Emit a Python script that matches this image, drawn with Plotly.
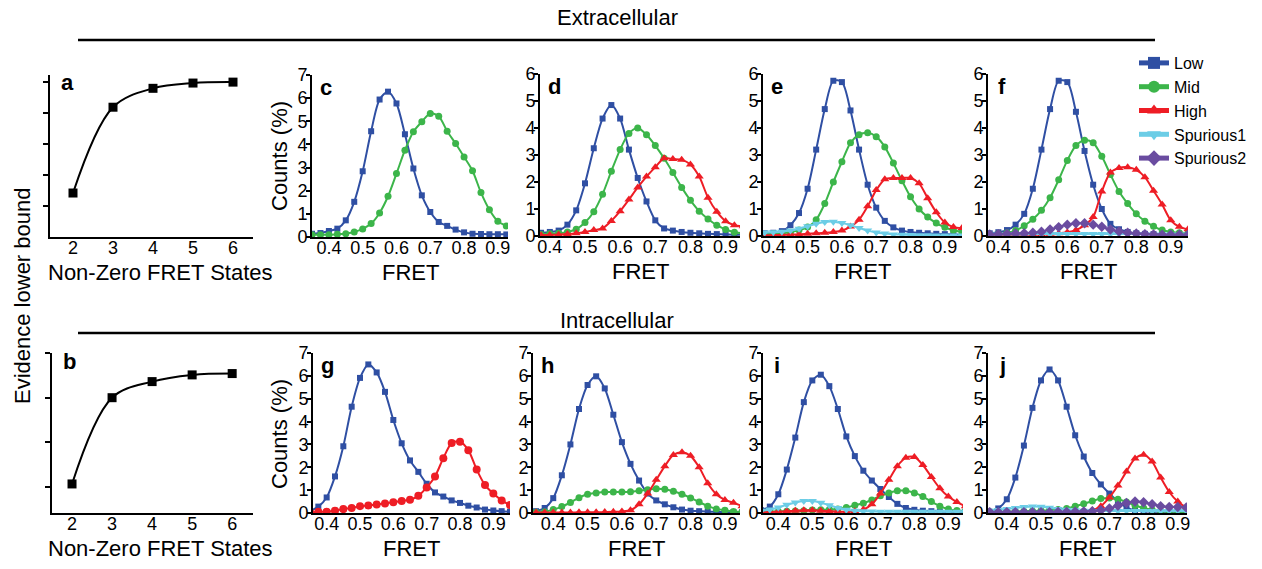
import plotly.graph_objects as go

# page pixels of the 1262x569 window
W, H = 1262, 569
FONT = "Liberation Sans"

# ---------------- data ----------------
STATES = [2, 3, 4, 5, 6]
ELBO_EXTRA = [1.42, 4.19, 4.80, 4.97, 5.00]
ELBO_INTRA = [0.07, 2.00, 2.36, 2.51, 2.54]

FRET = [0.35, 0.375, 0.4, 0.425, 0.45, 0.475, 0.5, 0.525, 0.55, 0.575, 0.6, 0.625,
        0.65, 0.675, 0.7, 0.725, 0.75, 0.775, 0.8, 0.825, 0.85, 0.875, 0.9, 0.925, 0.95]

C_LOW = [0.14, 0.17, 0.26, 0.36, 0.72, 1.52, 2.84, 4.57, 5.94, 6.28, 5.77, 4.44, 2.96, 1.80, 1.08, 0.65, 0.48, 0.32, 0.20, 0.14, 0.13, 0.12, 0.12, 0.11, 0.10]
C_MID = [0.10, 0.10, 0.10, 0.12, 0.14, 0.22, 0.35, 0.58, 1.04, 1.76, 2.74, 3.75, 4.55, 4.98, 5.34, 5.22, 4.57, 4.04, 3.46, 2.86, 1.92, 1.18, 0.68, 0.48, 0.35]

D_LOW = [0.10, 0.12, 0.15, 0.20, 0.42, 0.95, 1.95, 3.25, 4.35, 4.85, 4.35, 3.20, 2.15, 1.28, 0.58, 0.28, 0.20, 0.15, 0.12, 0.10, 0.08, 0.07, 0.06, 0.05, 0.05]
D_MID = [0.05, 0.06, 0.08, 0.10, 0.15, 0.25, 0.50, 0.90, 1.55, 2.40, 3.20, 3.80, 4.00, 3.75, 3.35, 2.88, 2.35, 1.80, 1.32, 0.92, 0.63, 0.40, 0.24, 0.14, 0.10]
D_HIGH = [0.02, 0.03, 0.04, 0.05, 0.07, 0.10, 0.15, 0.22, 0.28, 0.56, 0.92, 1.35, 1.80, 2.20, 2.55, 2.88, 2.85, 2.82, 2.65, 2.20, 1.42, 0.90, 0.55, 0.40, 0.36]

E_LOW = [0.08, 0.10, 0.12, 0.18, 0.40, 0.85, 1.75, 3.20, 4.70, 5.75, 5.70, 4.65, 3.20, 1.90, 1.05, 0.56, 0.32, 0.20, 0.15, 0.12, 0.10, 0.08, 0.07, 0.06, 0.05]
E_MID = [0.05, 0.06, 0.08, 0.10, 0.14, 0.22, 0.33, 0.60, 1.20, 2.00, 2.75, 3.45, 3.75, 3.82, 3.68, 3.30, 2.70, 2.05, 1.45, 1.00, 0.70, 0.48, 0.32, 0.21, 0.15]
E_HIGH = [0.02, 0.02, 0.03, 0.04, 0.05, 0.06, 0.08, 0.10, 0.12, 0.15, 0.20, 0.35, 0.60, 1.10, 1.70, 2.10, 2.15, 2.15, 2.15, 1.95, 1.40, 0.88, 0.50, 0.33, 0.30]
E_SP1 = [0.12, 0.13, 0.14, 0.16, 0.20, 0.27, 0.36, 0.45, 0.52, 0.53, 0.48, 0.40, 0.30, 0.20, 0.13, 0.09, 0.06, 0.05, 0.04, 0.03, 0.03, 0.02, 0.02, 0.02, 0.02]

F_LOW = [0.08, 0.10, 0.14, 0.22, 0.42, 0.82, 1.75, 3.20, 4.70, 5.75, 5.70, 4.60, 3.15, 1.90, 1.00, 0.45, 0.25, 0.15, 0.10, 0.08, 0.07, 0.06, 0.05, 0.05, 0.04]
F_MID = [0.05, 0.06, 0.08, 0.12, 0.20, 0.38, 0.62, 0.95, 1.42, 2.08, 2.80, 3.35, 3.55, 3.45, 2.95, 2.28, 1.65, 1.20, 0.82, 0.55, 0.36, 0.22, 0.15, 0.12, 0.10]
F_HIGH = [0.02, 0.02, 0.02, 0.03, 0.03, 0.04, 0.05, 0.06, 0.08, 0.10, 0.14, 0.22, 0.40, 0.70, 1.65, 2.35, 2.52, 2.55, 2.45, 2.18, 1.68, 1.17, 0.58, 0.34, 0.25]
F_SP1 = [0.06, 0.06, 0.06, 0.06, 0.06, 0.06, 0.07, 0.07, 0.07, 0.07, 0.07, 0.07, 0.07, 0.07, 0.07, 0.07, 0.07, 0.07, 0.07, 0.06, 0.06, 0.06, 0.06, 0.06, 0.06]
F_SP2 = [0.05, 0.06, 0.07, 0.08, 0.09, 0.10, 0.12, 0.16, 0.24, 0.33, 0.42, 0.47, 0.47, 0.42, 0.34, 0.24, 0.17, 0.12, 0.09, 0.07, 0.06, 0.05, 0.05, 0.05, 0.05]

G_LOW = [0.08, 0.28, 0.68, 1.60, 2.92, 4.65, 5.91, 6.50, 6.15, 5.30, 4.07, 3.05, 2.30, 1.80, 1.28, 0.90, 0.72, 0.55, 0.44, 0.32, 0.24, 0.15, 0.11, 0.08, 0.06]
G_HIGH = [0.03, 0.05, 0.06, 0.10, 0.17, 0.22, 0.30, 0.33, 0.37, 0.42, 0.47, 0.53, 0.58, 0.75, 1.12, 1.60, 2.40, 3.06, 3.12, 2.75, 1.90, 1.22, 0.85, 0.55, 0.35]

H_LOW = [0.08, 0.22, 0.65, 1.65, 3.00, 4.55, 5.60, 5.98, 5.45, 4.30, 3.10, 2.15, 1.42, 0.85, 0.55, 0.38, 0.25, 0.15, 0.10, 0.08, 0.06, 0.05, 0.04, 0.03, 0.03]
H_MID = [0.03, 0.05, 0.15, 0.28, 0.46, 0.67, 0.82, 0.88, 0.92, 0.92, 0.92, 0.93, 0.97, 1.02, 1.06, 1.04, 0.95, 0.82, 0.66, 0.48, 0.30, 0.18, 0.12, 0.07, 0.05]
H_HIGH = [0.02, 0.02, 0.02, 0.02, 0.02, 0.03, 0.03, 0.03, 0.04, 0.05, 0.07, 0.12, 0.38, 0.85, 1.45, 2.05, 2.54, 2.66, 2.50, 2.00, 1.30, 0.82, 0.57, 0.45, 0.30]

I_LOW = [0.12, 0.28, 0.82, 1.90, 3.30, 4.85, 5.80, 6.05, 5.55, 4.55, 3.35, 2.49, 1.85, 1.42, 1.05, 0.70, 0.40, 0.22, 0.14, 0.10, 0.08, 0.06, 0.05, 0.05, 0.05]
I_MID = [0.05, 0.06, 0.07, 0.08, 0.09, 0.10, 0.13, 0.14, 0.15, 0.18, 0.24, 0.34, 0.43, 0.57, 0.75, 0.88, 0.97, 0.97, 0.88, 0.72, 0.50, 0.30, 0.17, 0.11, 0.08]
I_HIGH = [0.03, 0.04, 0.06, 0.08, 0.10, 0.12, 0.12, 0.10, 0.08, 0.06, 0.06, 0.08, 0.15, 0.38, 0.85, 1.45, 2.05, 2.42, 2.45, 2.10, 1.58, 1.08, 0.72, 0.48, 0.30]
I_SP1 = [0.10, 0.15, 0.24, 0.36, 0.46, 0.52, 0.52, 0.45, 0.34, 0.22, 0.14, 0.10, 0.08, 0.07, 0.06, 0.06, 0.05, 0.05, 0.05, 0.05, 0.05, 0.05, 0.05, 0.05, 0.05]

J_LOW = [0.05, 0.20, 0.60, 1.55, 2.95, 4.60, 5.80, 6.28, 5.80, 4.65, 3.40, 2.47, 1.75, 1.25, 0.85, 0.50, 0.25, 0.12, 0.08, 0.06, 0.05, 0.05, 0.05, 0.05, 0.05]
J_MID = [0.05, 0.05, 0.06, 0.07, 0.08, 0.09, 0.10, 0.12, 0.15, 0.20, 0.30, 0.40, 0.52, 0.63, 0.66, 0.60, 0.48, 0.33, 0.22, 0.14, 0.09, 0.07, 0.06, 0.05, 0.05]
J_HIGH = [0.02, 0.02, 0.02, 0.02, 0.02, 0.02, 0.03, 0.03, 0.03, 0.04, 0.05, 0.07, 0.12, 0.30, 0.68, 1.20, 1.82, 2.38, 2.55, 2.25, 1.55, 0.92, 0.50, 0.24, 0.15]
J_SP1 = [0.10, 0.13, 0.17, 0.22, 0.26, 0.28, 0.27, 0.23, 0.18, 0.14, 0.12, 0.10, 0.09, 0.09, 0.09, 0.09, 0.09, 0.09, 0.09, 0.09, 0.09, 0.09, 0.09, 0.09, 0.09]
J_SP2 = [0.04, 0.04, 0.04, 0.04, 0.04, 0.04, 0.04, 0.04, 0.05, 0.05, 0.06, 0.07, 0.08, 0.12, 0.20, 0.32, 0.44, 0.50, 0.47, 0.38, 0.30, 0.26, 0.26, 0.24, 0.22]

STYLE = {
    "Low": dict(color="#2f4fa3", symbol="square", size=6),
    "Mid": dict(color="#3cb54a", symbol="circle", size=7),
    "High": dict(color="#ee1d25", symbol="triangle-up", size=8),
    "Spurious1": dict(color="#6ccde6", symbol="triangle-down", size=8),
    "Spurious2": dict(color="#6a4ca0", symbol="diamond", size=8),
}

# panel: letter, series, x-range, y-range, page-pixel box (x0, x1, ytop, ybot)
PANELS = [
    ("c", [("Low", C_LOW, None), ("Mid", C_MID, None)], [0.35, 0.93], [0, 7], (312, 508, 75, 237)),
    ("d", [("Low", D_LOW, None), ("Mid", D_MID, None), ("High", D_HIGH, None)], [0.372, 0.941], [0, 6], (540, 740, 74, 236)),
    ("e", [("Low", E_LOW, None), ("Mid", E_MID, None), ("High", E_HIGH, None), ("Spurious1", E_SP1, None)], [0.37, 0.95], [0, 6], (763, 962, 74, 236)),
    ("f", [("Low", F_LOW, None), ("Mid", F_MID, None), ("High", F_HIGH, None), ("Spurious1", F_SP1, None), ("Spurious2", F_SP2, None)], [0.37, 0.95], [0, 6], (988, 1188, 74, 236)),
    ("g", [("Low", G_LOW, None), ("High", G_HIGH, "circle")], [0.359, 0.95], [0, 7], (313, 510, 353, 513)),
    ("h", [("Low", H_LOW, None), ("Mid", H_MID, None), ("High", H_HIGH, None)], [0.341, 0.944], [0, 7], (533, 740, 353, 513)),
    ("i", [("Low", I_LOW, None), ("Mid", I_MID, None), ("High", I_HIGH, None), ("Spurious1", I_SP1, None)], [0.355, 0.943], [0, 7], (763, 963, 353, 513)),
    ("j", [("Low", J_LOW, None), ("Mid", J_MID, None), ("High", J_HIGH, None), ("Spurious1", J_SP1, None), ("Spurious2", J_SP2, None)], [0.345, 0.927], [0, 7], (988, 1187, 353, 513)),
]
ELBO_PANELS = [
    ("a", ELBO_EXTRA, [1.425, 6.5], [0, 5.23], [1, 2, 3, 4, 5], (50, 253, 75, 237)),
    ("b", ELBO_INTRA, [1.5, 6.52], [-0.58, 3.0], [0, 1, 2, 3], (52, 253, 353, 513)),
]


def px_x(p):
    return p / W


def px_y(p):
    return 1 - p / H


fig = go.Figure()
layout = dict(
    width=W, height=H, autosize=False,
    margin=dict(l=0, r=0, t=0, b=0, pad=0, autoexpand=False),
    paper_bgcolor="white", plot_bgcolor="white",
    font=dict(family=FONT, size=18, color="black"),
    showlegend=True,
    legend=dict(x=px_x(1134), y=px_y(46), xanchor="left", yanchor="top",
                font=dict(family=FONT, size=16, color="black"),
                bgcolor="rgba(0,0,0,0)", borderwidth=0, tracegroupgap=0,
                itemsizing="constant"),
)
annotations = []

TICKFONT = dict(family=FONT, size=18, color="black")
axis_common = dict(showgrid=False, zeroline=False, showline=True, linecolor="black",
                   linewidth=2, tickfont=TICKFONT, automargin=False)
TITLE_FONT = dict(family=FONT, size=22)

k = 0
for letter, ydata, xr, yr, ytv, (x0, x1, yt, yb) in ELBO_PANELS:
    k += 1
    fig.add_trace(go.Scatter(
        x=STATES, y=ydata, mode="lines+markers", showlegend=False,
        line=dict(color="black", width=2, shape="spline", smoothing=1.0),
        marker=dict(symbol="square", size=9, color="black"),
        xaxis=f"x{k}", yaxis=f"y{k}", cliponaxis=False))
    layout[f"xaxis{k}"] = dict(axis_common, domain=[px_x(x0), px_x(x1)], anchor=f"y{k}",
                               range=xr, tickvals=STATES, ticks="", ticklabelstandoff=-7)
    layout[f"yaxis{k}"] = dict(axis_common, domain=[px_y(yb), px_y(yt)], anchor=f"x{k}",
                               range=yr, tickvals=ytv, ticks="outside", ticklen=5,
                               tickwidth=1.5, tickcolor="black", showticklabels=False)
    annotations.append(dict(text=f"<b>{letter}</b>", x=px_x(x0 + 17), y=px_y(yt + 8),
                            font=dict(family=FONT, size=22)))
    annotations.append(dict(text="Non-Zero FRET States", x=px_x(160), y=px_y(yb + 35),
                            font=TITLE_FONT))

for letter, series, xr, yr, (x0, x1, yt, yb) in PANELS:
    k += 1
    for name, ydata, sym in series:
        st = STYLE[name]
        fig.add_trace(go.Scatter(
            x=FRET, y=ydata, name=name, mode="lines+markers",
            showlegend=(letter == "f"), legendgroup=name,
            line=dict(color=st["color"], width=2, shape="spline", smoothing=0.8),
            marker=dict(symbol=sym or st["symbol"], size=st["size"], color=st["color"]),
            xaxis=f"x{k}", yaxis=f"y{k}"))
    layout[f"xaxis{k}"] = dict(axis_common, domain=[px_x(x0), px_x(x1)], anchor=f"y{k}",
                               range=xr, tick0=0.4, dtick=0.1, tickformat=".1f", ticks="",
                               ticklabelstandoff=-7)
    layout[f"yaxis{k}"] = dict(axis_common, domain=[px_y(yb), px_y(yt)], anchor=f"x{k}",
                               range=yr, dtick=1, ticks="outside", ticklen=4,
                               tickwidth=1.5, tickcolor="black", ticklabelstandoff=-5)
    annotations.append(dict(text=f"<b>{letter}</b>", x=px_x(x0 + 14), y=px_y(yt + 12),
                            font=dict(family=FONT, size=22)))
    annotations.append(dict(text="FRET", x=px_x((x0 + x1) / 2), y=px_y(yb + 35),
                            font=TITLE_FONT))

annotations += [
    dict(text="Extracellular", x=px_x(617), y=px_y(18), font=TITLE_FONT),
    dict(text="Intracellular", x=px_x(617), y=px_y(320), font=TITLE_FONT),
    dict(text="Evidence lower bound", x=px_x(22), y=px_y(296), textangle=-90,
         font=TITLE_FONT),
    dict(text="Counts (%)", x=px_x(279), y=px_y(156), textangle=-90, font=TITLE_FONT),
    dict(text="Counts (%)", x=px_x(279), y=px_y(434), textangle=-90, font=TITLE_FONT),
]
for a in annotations:
    a.update(xref="paper", yref="paper", xanchor="center", yanchor="middle",
             showarrow=False)
layout["annotations"] = annotations
layout["shapes"] = [
    dict(type="line", xref="paper", yref="paper", x0=px_x(78), x1=px_x(1155),
         y0=px_y(40), y1=px_y(40), line=dict(color="black", width=2.5)),
    dict(type="line", xref="paper", yref="paper", x0=px_x(78), x1=px_x(1155),
         y0=px_y(333), y1=px_y(333), line=dict(color="black", width=2.5)),
]
fig.update_layout(**layout)
# remove the default 8px page margin so the figure fills the window exactly
fig.write_html("out.html", config={"displayModeBar": False},
               post_script="document.body.style.margin='0';document.body.style.overflow='hidden';")
